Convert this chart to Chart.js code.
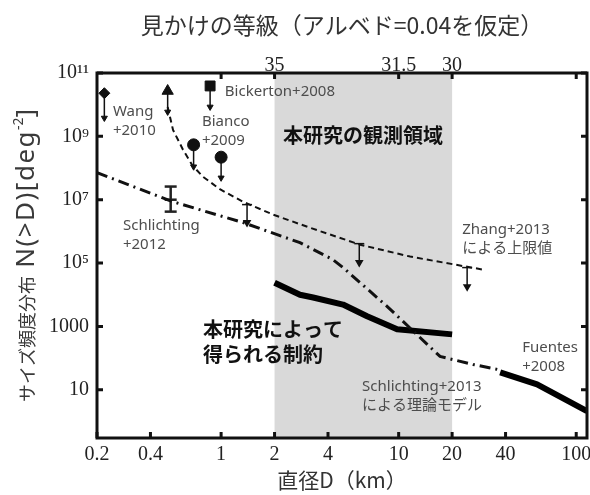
<!DOCTYPE html>
<html>
<head>
<meta charset="utf-8">
<script src="https://cdn.jsdelivr.net/npm/chart.js@4/dist/chart.umd.min.js"></script>
<style>
  html, body { margin: 0; padding: 0; background: #fff; }
  #wrap { width: 590px; height: 495px; }
</style>
</head>
<body>
<div id="wrap"><canvas id="sfd"></canvas></div>
<script>
// Axis ticks
const xTicks = [0.2, 0.4, 1, 2, 4, 10, 20, 40, 100];
const xTickLabels = ['0.2', '0.4', '1', '2', '4', '10', '20', '40', '100'];
const magTicks = [1, 2, 10, 20, 100];
const magLabels = ['', '35', '31.5', '30', ''];
const yTicks = [10, 1e3, 1e5, 1e7, 1e9, 1e11];
const yTickLabels = ['10', '1000', '10⁵', '10⁷', '10⁹', '10¹¹'];

// Survey range of this study (km)
const surveyRange = [2, 20];

// Zhang+2013 upper limit (dashed)
const zhangD = [0.50, 0.536, 0.61, 0.69, 0.79, 0.99, 1.33, 1.96, 3.17, 6.07, 11.6, 29.9];
const zhangN = [8.5e9, 1.6e9, 3.8e8, 1.2e8, 5.3e7, 2.1e7, 8.6e6, 3.4e6, 1.3e6, 3.8e5, 1.6e5, 6.2e4];
const zhangLimD = [1.40, 6.0, 24.3];
const zhangLimTop = [7.0e6, 4.1e5, 7.2e4];
const zhangLimBottom = [1.9e6, 1.04e5, 1.8e4];

// Schlichting+2013 model (dash-dot)
const modelD = [0.2, 0.536, 1.33, 2.78, 4.26, 4.86, 8.6, 17.1, 26.2, 35.9];
const modelN = [7.1e7, 8.6e6, 1.9e6, 4.4e5, 1.29e5, 7.2e4, 4.3e3, 113, 63, 44];

// This study constraint (thick)
const thisD = [2.0, 2.78, 3.3, 4.86, 6.64, 9.8, 20];
const thisN = [2.4e4, 1.0e4, 8.2e3, 4.9e3, 2.1e3, 810, 560];

// Fuentes+2008 (thick)
const fuentesD = [37.3, 60.2, 115];
const fuentesN = [35.5, 14.9, 2.1];

// Other surveys: upper limits (marker + arrow)
const obsD = [0.22, 0.50, 0.867, 0.70, 1.0];
const obsN = [2.3e10, 2.7e10, 3.9e10, 5.4e8, 2.2e8];
const obsLimN = [3.8e9, 5.9e9, 8.5e9, 1.1e8, 4.9e7];

// Schlichting+2012 detection with error bar
const schD = 0.52;
const schN = 1e7;
const schLow = 4.2e6;
const schHigh = 2.6e7;

const cjk = "'Noto Sans CJK JP', sans-serif";
const refFont = "'Noto Sans', 'Noto Sans CJK JP', sans-serif";
const serif = "'Liberation Serif', 'DejaVu Serif', serif";

// Text notes placed in data coordinates
const notes = [
  { text: ['Wang', '+2010'], d: 0.246, n: 5.9e9, kind: 'ref' },
  { text: ['Bianco', '+2009'], d: 0.78, n: 2.9e9, kind: 'ref' },
  { text: ['Bickerton+2008'], d: 1.05, n: 2.5e10, kind: 'ref' },
  { text: ['Schlichting', '+2012'], d: 0.28, n: 1.5e6, kind: 'ref' },
  { text: ['Zhang+2013', 'による上限値'], d: 22.8, n: 1.1e6, kind: 'ref' },
  { text: ['Fuentes', '+2008'], d: 49.6, n: 218, kind: 'ref' },
  { text: ['Schlichting+2013', 'による理論モデル'], d: 6.22, n: 12.9, kind: 'ref' },
  { text: ['本研究の観測領域'], d: 2.23, n: 1.1e9, kind: 'main' },
  { text: ['本研究によって', '得られる制約'], d: 0.79, n: 805, kind: 'main' }
];

// y axis title, drawn in pieces (CJK part smaller, latin part wider)
const yTitleParts = [
  { t: 'サイズ頻度分布', font: '18px ' + cjk, dy: 0, sp: 0 },
  { t: ' N(>D)[deg', font: '26px ' + refFont, dy: 0, sp: 1.5 },
  { t: '-2', font: '14px ' + refFont, dy: -8, sp: 0 },
  { t: ']', font: '26px ' + refFont, dy: 0, sp: 0 }
];

const pts = (xs, ys) => xs.map((x, i) => ({ x: x, y: ys[i] }));

const datasets = [];
datasets.push({
  data: pts(zhangD, zhangN), borderColor: '#111', borderWidth: 2,
  borderDash: [6, 4], showLine: true, pointRadius: 0
});
datasets.push({
  data: pts(modelD, modelN), borderColor: '#111', borderWidth: 3,
  borderDash: [11, 5, 2, 5], showLine: true, pointRadius: 0
});
datasets.push({
  data: pts(thisD, thisN), borderColor: '#000', borderWidth: 6,
  showLine: true, pointRadius: 0, borderJoinStyle: 'round'
});
datasets.push({
  data: pts(fuentesD, fuentesN), borderColor: '#000', borderWidth: 6,
  showLine: true, pointRadius: 0, borderJoinStyle: 'round'
});

zhangLimD.forEach((d, i) => {
  datasets.push({
    data: [{ x: d, y: zhangLimTop[i] }, { x: d, y: zhangLimBottom[i] }],
    borderColor: '#111', borderWidth: 1.5, showLine: true,
    pointStyle: ['line', 'triangle'], pointRotation: [0, 180], pointRadius: [5, 3.5],
    pointBorderColor: '#111', pointBackgroundColor: '#111', pointBorderWidth: 1.5
  });
});

const obsStyle = ['rectRot', 'triangle', 'rect', 'circle', 'circle'];
const obsRadius = [5.5, 6.5, 7, 6, 6];
obsD.forEach((d, i) => {
  datasets.push({
    data: [{ x: d, y: obsN[i] }, { x: d, y: obsLimN[i] }],
    borderColor: '#111', borderWidth: 1.5, showLine: true,
    pointStyle: [obsStyle[i], 'triangle'], pointRotation: [0, 180],
    pointRadius: [obsRadius[i], 3.5],
    pointBorderColor: '#111', pointBackgroundColor: '#111', pointBorderWidth: 1
  });
});

datasets.push({
  data: [{ x: schD, y: schHigh }, { x: schD, y: schN }, { x: schD, y: schLow }],
  borderColor: '#222', borderWidth: 2.5, showLine: true,
  pointStyle: 'line', pointRadius: 6, pointBorderColor: '#222', pointBorderWidth: 2.5
});

// gray band for the survey range
const surveyBand = {
  id: 'surveyBand',
  beforeDatasetsDraw(chart) {
    const { ctx, chartArea: a, scales } = chart;
    const x0 = scales.x.getPixelForValue(surveyRange[0]);
    const x1 = scales.x.getPixelForValue(surveyRange[1]);
    ctx.save();
    ctx.fillStyle = '#d9d9d9';
    ctx.fillRect(x0, a.top, x1 - x0, a.bottom - a.top);
    ctx.restore();
  }
};

// text annotations
const noteText = {
  id: 'noteText',
  afterDatasetsDraw(chart) {
    const { ctx, scales } = chart;
    ctx.save();
    ctx.textAlign = 'left';
    ctx.textBaseline = 'middle';
    notes.forEach(nt => {
      const px = scales.x.getPixelForValue(nt.d);
      const py = scales.y.getPixelForValue(nt.n);
      const main = nt.kind === 'main';
      ctx.font = main ? 'bold 20px ' + cjk : '15px ' + refFont;
      ctx.fillStyle = main ? '#111' : '#4d4d4d';
      const gap = main ? 25 : 19;
      nt.text.forEach((line, k) => ctx.fillText(line, px, py + k * gap));
    });
    ctx.restore();
  }
};

// box frame with inward ticks, plus the y title
const frame = {
  id: 'frame',
  afterDraw(chart) {
    const { ctx, chartArea: a, scales } = chart;
    const len = 6;
    ctx.save();
    ctx.strokeStyle = '#111';
    ctx.lineWidth = 3;
    ctx.strokeRect(a.left, a.top, a.right - a.left, a.bottom - a.top);
    ctx.beginPath();
    xTicks.forEach(v => {
      const px = scales.x.getPixelForValue(v);
      ctx.moveTo(px, a.bottom); ctx.lineTo(px, a.bottom - len);
    });
    magTicks.forEach(v => {
      const px = scales.x2.getPixelForValue(v);
      ctx.moveTo(px, a.top); ctx.lineTo(px, a.top + len);
    });
    yTicks.forEach(v => {
      const py = scales.y.getPixelForValue(v);
      ctx.moveTo(a.left, py); ctx.lineTo(a.left + len, py);
      ctx.moveTo(a.right, py); ctx.lineTo(a.right - len, py);
    });
    ctx.stroke();

    // y title
    ctx.fillStyle = '#3a3a3a';
    ctx.textAlign = 'left';
    ctx.textBaseline = 'middle';
    let total = 0;
    yTitleParts.forEach(p => {
      ctx.font = p.font;
      ctx.letterSpacing = p.sp + 'px';
      p.w = ctx.measureText(p.t).width;
      total += p.w;
    });
    ctx.translate(27, (a.top + a.bottom) / 2);
    ctx.rotate(-Math.PI / 2);
    let cx = -total / 2;
    yTitleParts.forEach(p => {
      ctx.font = p.font;
      ctx.letterSpacing = p.sp + 'px';
      ctx.fillText(p.t, cx, p.dy);
      cx += p.w;
    });
    ctx.restore();
  }
};

const tickFont = { family: serif, size: 20 };
const noPadX = s => { s.paddingLeft = 0; s.paddingRight = 0; };

new Chart(document.getElementById('sfd'), {
  type: 'scatter',
  data: { datasets: datasets },
  options: {
    responsive: true,
    maintainAspectRatio: false,
    animation: false,
    layout: { autoPadding: false, padding: { left: 0, right: 3, top: 0, bottom: 0 } },
    plugins: { legend: { display: false }, tooltip: { enabled: false } },
    scales: {
      x: {
        type: 'logarithmic', position: 'bottom', min: 0.2, max: 115,
        afterBuildTicks: s => { s.ticks = xTicks.map(v => ({ value: v })); },
        afterFit: s => { s.height = 57; noPadX(s); },
        grid: { display: false, drawTicks: false }, border: { display: false },
        ticks: {
          autoSkip: false, maxRotation: 0, padding: 5, color: '#222', font: tickFont,
          callback: v => xTickLabels[xTicks.indexOf(v)] ?? ''
        },
        title: {
          display: true, text: '直径D（km）', color: '#333',
          font: { family: cjk, size: 21 }, padding: { top: 0, bottom: 2 }
        }
      },
      x2: {
        type: 'logarithmic', position: 'top', min: 0.2, max: 115,
        afterBuildTicks: s => { s.ticks = magTicks.map(v => ({ value: v })); },
        afterFit: s => { s.height = 73; noPadX(s); },
        grid: { display: false, drawTicks: false }, border: { display: false },
        ticks: {
          autoSkip: false, maxRotation: 0, padding: -5, color: '#222', font: tickFont,
          callback: v => magLabels[magTicks.indexOf(v)] ?? ''
        },
        title: {
          display: true, text: '見かけの等級（アルベド=0.04を仮定）', color: '#333',
          font: { family: cjk, size: 23 }, padding: { top: 11, bottom: 0 }
        }
      },
      y: {
        type: 'logarithmic', position: 'left', min: 0.3, max: 1e11,
        afterBuildTicks: s => { s.ticks = yTicks.map(v => ({ value: v })); },
        afterFit: s => { s.width = 97; s.paddingTop = 0; s.paddingBottom = 0; },
        grid: { display: false, drawTicks: false }, border: { display: false },
        ticks: {
          autoSkip: false, padding: 8, color: '#222', font: tickFont,
          callback: v => yTickLabels[yTicks.indexOf(v)] ?? ''
        },
        title: { display: false }
      }
    }
  },
  plugins: [surveyBand, noteText, frame]
});
</script>
</body>
</html>
